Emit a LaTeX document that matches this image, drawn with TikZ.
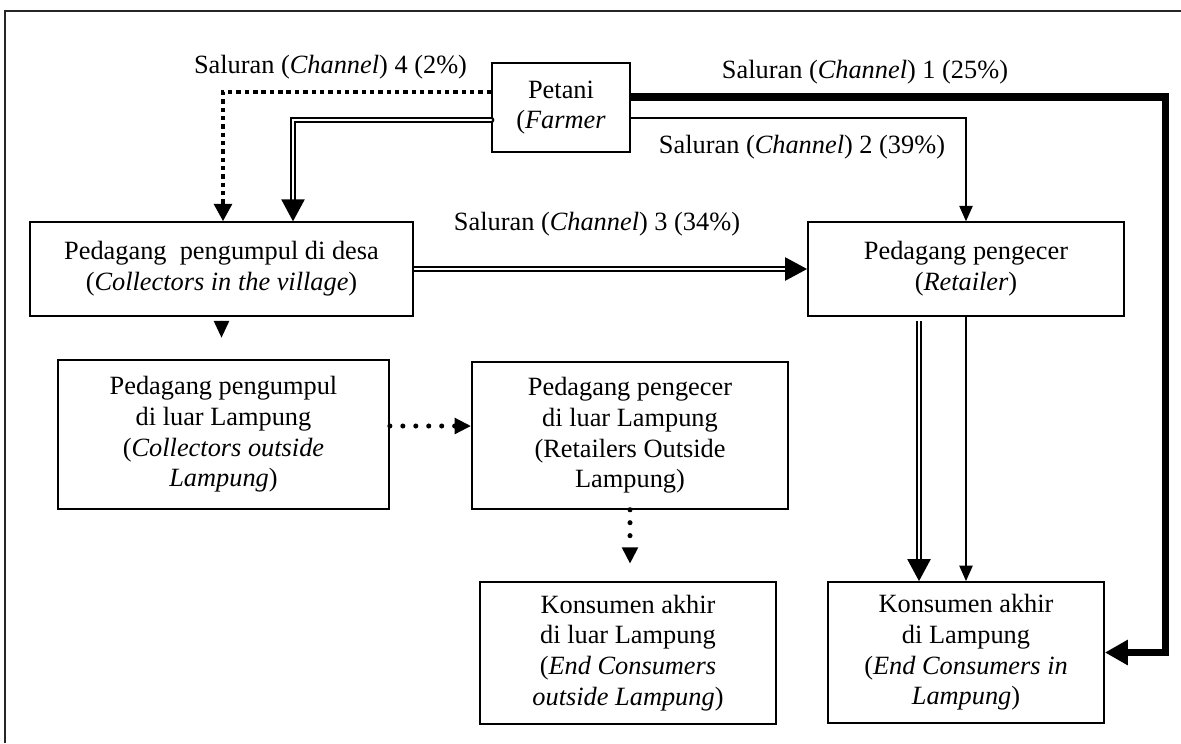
\documentclass[tikz,border=0pt]{standalone}
\usepackage{fontspec}
\setmainfont{Liberation Serif}
\usetikzlibrary{arrows.meta}

\begin{document}
\begin{tikzpicture}[x=0.016cm,y=-0.016cm,
    box/.style={draw,line width=0.75pt,inner sep=0pt,align=center,font=\fontsize{12}{14}\selectfont},
    chan/.style={inner sep=0pt,font=\fontsize{12}{14}\selectfont},
    singleflow/.style={line width=0.75pt,-{Triangle[length=7pt,width=6pt]}},
    doubleflow/.style={line width=0.95pt,double=white,double distance=1.1pt,-{Triangle[length=10pt,width=10.5pt]}},
    heavyflow/.style={line width=3.2pt,-{Triangle[length=10.5pt,width=11pt]}},
    squaredots/.style={line width=2.1pt,dash pattern=on 2pt off 1.8pt,-{Triangle[length=8pt,width=8pt]}},
    rounddots/.style={line width=2.3pt,line cap=round,dash pattern=on 0pt off 5.9pt,-{Triangle[length=7.5pt,width=7pt]}},
    smallhead/.style={line width=0.75pt,-{Triangle[length=7.7pt,width=7pt]}}]
    \useasboundingbox (0,0) rectangle (1181,743);
    % Frame
    \draw[line width=0.9pt,black!85] (5,743) -- (5,11) -- (1181,11);
    % Boxes
    \node[box,minimum width=2.21cm,minimum height=1.42cm] (farmer) at (561,107.5) {Petani\\(\textit{Farmer}};
    \node[box,minimum width=6.13cm,minimum height=1.50cm] (collector) at (221.5,269) {Pedagang\ \ pengumpul di desa\\(\textit{Collectors in the village})};
    \node[box,minimum width=5.06cm,minimum height=1.50cm] (retailer) at (966,269) {Pedagang pengecer\\(\textit{Retailer})};
    \node[box,minimum width=5.30cm,minimum height=2.38cm] (colout) at (223.5,434.5) {Pedagang pengumpul\\di luar Lampung\\(\textit{Collectors outside}\\\textit{Lampung})};
    \node[box,minimum width=5.06cm,minimum height=2.35cm] (retout) at (630,435.5) {Pedagang pengecer\\di luar Lampung\\(Retailers Outside\\Lampung)};
    \node[box,minimum width=4.74cm,minimum height=2.27cm] (consout) at (628,653) {Konsumen akhir\\di luar Lampung\\(\textit{End Consumers}\\\textit{outside Lampung})};
    \node[box,minimum width=4.42cm,minimum height=2.26cm] (consin) at (966,652.5) {Konsumen akhir\\di Lampung\\(\textit{End Consumers in}\\\textit{Lampung})};
    % Labels
    \node[chan] (ch4) at (330.5,67) {Saluran (\textit{Channel}) 4 (2\%)};
    \node[chan] (ch1) at (865,72) {Saluran (\textit{Channel}) 1 (25\%)};
    \node[chan] (ch2) at (802,147) {Saluran (\textit{Channel}) 2 (39\%)};
    \node[chan] (ch3) at (597,224) {Saluran (\textit{Channel}) 3 (34\%)};
    % Channel 1
    \coordinate (k1) at (1165,97);
    \draw[heavyflow] (farmer.east |- k1) -- (k1) |- (consin.east);
    % Channel 2
    \coordinate (k2) at (0,118);
    \draw[singleflow] (farmer.east |- k2) -| (retailer.north);
    \draw[singleflow] (retailer.south) -- (consin.north);
    % Channel 3
    \coordinate (k5) at (293,120);
    \draw[doubleflow,line cap=round] (farmer.west |- k5) -- (k5) -- (k5 |- collector.north);
    \draw[doubleflow] (collector.east) -- (retailer.west);
    \coordinate (k9) at (919,0);
    \draw[doubleflow] ([yshift=-2pt]retailer.south -| k9) -- (k9 |- consin.north);
    % Channel 4
    \coordinate (k4) at (223,92);
    \draw[squaredots] (farmer.west |- k4) -- (k4) -- (k4 |- collector.north);
    \path (collector.south) ++(0,21) coordinate (h6);
    \draw[smallhead] (collector.south) ++(0,4) -- (h6);
    \coordinate (k7) at (0,426);
    \draw[rounddots] (colout.east |- k7) -- (retout.west |- k7);
    \path (retout.south) ++(0,54) coordinate (h8);
    \draw[rounddots] (retout.south) -- (h8);
\end{tikzpicture}
\end{document}
